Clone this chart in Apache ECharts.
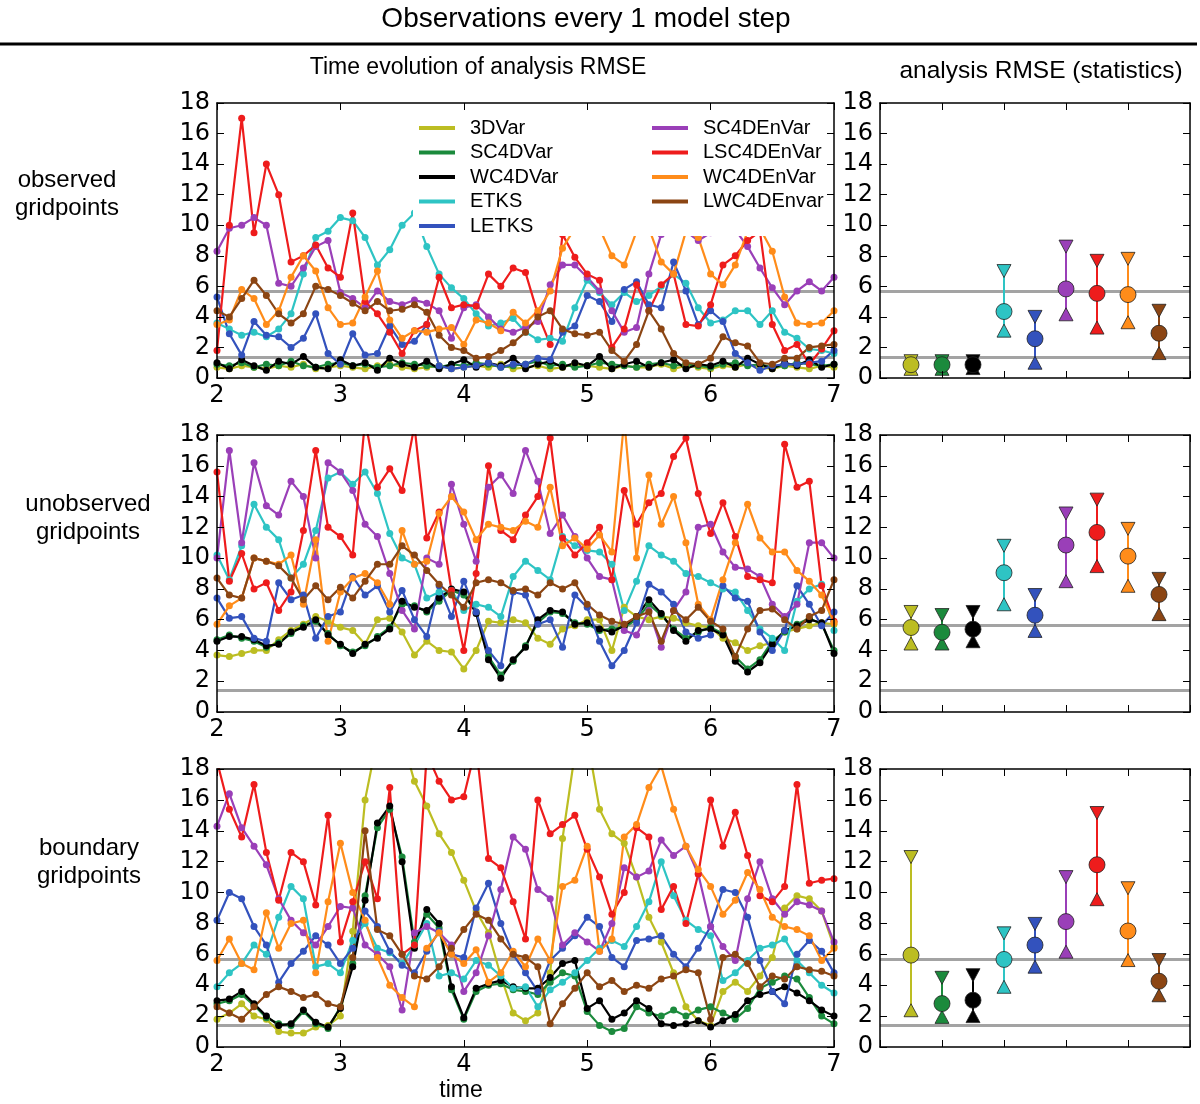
<!DOCTYPE html>
<html>
<head>
<meta charset="utf-8">
<title>Observations every 1 model step</title>
<script src="https://cdn.jsdelivr.net/npm/echarts@6/dist/echarts.min.js"></script>
<style>
html, body { margin: 0; padding: 0; background: #fff; }
#chart { width: 1200px; height: 1104px; }
</style>
</head>
<body>
<div id="chart"></div>
<script>
var methods = ['3DVar', 'SC4DVar', 'WC4DVar', 'ETKS', 'LETKS', 'SC4DEnVar', 'LSC4DEnVar', 'WC4DEnVar', 'LWC4DEnvar'];
var colors = ['#bcbd22', '#1b8a3c', '#000000', '#2ec4c4', '#3352bd', '#9a3fb8', '#ee1c1c', '#ff8c1a', '#8b4513'];

var times = [2.0, 2.1, 2.2, 2.3, 2.4, 2.5, 2.6, 2.7, 2.8, 2.9,
  3.0, 3.1, 3.2, 3.3, 3.4, 3.5, 3.6, 3.7, 3.8, 3.9,
  4.0, 4.1, 4.2, 4.3, 4.4, 4.5, 4.6, 4.7, 4.8, 4.9,
  5.0, 5.1, 5.2, 5.3, 5.4, 5.5, 5.6, 5.7, 5.8, 5.9,
  6.0, 6.1, 6.2, 6.3, 6.4, 6.5, 6.6, 6.7, 6.8, 6.9, 7.0];

// observed gridpoints
var obs3DVar = [0.7,0.6,0.8,0.7,0.6,0.8,0.7,0.9,0.6,0.7, 0.8,0.7,0.6,0.8,0.9,0.7,0.6,0.7,0.8,0.6, 0.7,0.8,0.7,0.9,0.6,0.7,0.8,0.6,0.7,0.9, 0.8,0.7,0.6,0.8,0.7,0.7,0.9,0.6,0.8,0.7, 0.6,0.8,0.7,0.9,0.7,0.6,0.8,0.7,0.6,0.8, 0.7];
var obsSC4DVar = [0.9,0.8,1.0,0.7,0.9,0.8,1.1,0.8,0.7,0.9, 1.0,0.8,0.9,0.7,0.8,1.0,0.9,0.8,0.7,0.9, 0.8,1.0,0.9,0.7,0.8,0.9,1.1,0.8,0.9,0.7, 0.8,1.0,0.9,0.8,0.7,0.9,1.0,0.8,0.9,0.8, 0.7,0.9,1.0,0.8,0.9,0.7,0.8,1.0,0.9,0.8, 0.9];
var obsWC4DVar = [1.0,0.6,1.2,0.8,0.5,1.1,0.9,1.4,0.7,0.6, 1.2,0.8,1.0,0.5,1.3,0.9,0.7,1.1,0.6,0.9, 1.2,0.7,1.0,0.8,1.3,0.6,0.9,1.1,0.7,1.0, 0.8,1.4,0.6,0.9,1.1,0.7,1.0,1.2,0.6,0.9, 0.8,1.1,0.7,1.3,0.9,0.6,1.0,0.8,1.2,0.7, 0.9];
var obsETKS = [3.6,3.2,2.8,3.0,2.7,3.2,4.2,6.8,9.2,9.6, 10.5,10.3,9.2,7.4,8.4,10.0,10.8,8.6,6.8,5.9, 5.2,4.2,3.4,3.6,3.9,3.0,2.5,2.6,2.4,4.6, 6.4,5.6,4.8,5.6,5.0,5.4,6.0,6.8,6.2,4.6, 3.6,3.8,4.4,4.4,3.5,4.4,3.0,2.6,1.9,1.8, 1.6];
var obsLETKS = [5.3,2.9,1.5,3.7,2.8,2.7,2.0,2.6,4.2,1.6, 0.9,2.9,1.5,1.6,3.4,2.2,2.4,3.5,0.8,0.6, 0.7,0.8,1.0,0.7,0.9,0.9,1.3,1.2,3.0,3.4, 5.4,5.0,3.7,5.8,6.3,4.8,4.6,7.6,5.7,3.5, 4.4,3.7,1.6,1.0,0.5,0.8,0.9,0.9,1.0,1.1, 1.8];
var obsSC4DEnVar = [8.3,9.8,10.0,10.5,10.0,6.2,6.0,7.2,8.6,9.0, 5.6,5.2,4.6,5.7,5.0,4.8,5.1,4.9,4.4,2.6, 4.6,4.8,4.0,3.2,3.0,3.3,3.7,6.1,7.4,7.4, 6.6,5.7,4.4,3.0,3.3,6.8,9.4,9.8,9.6,9.0, 9.5,9.8,9.7,8.6,7.2,5.9,4.8,5.7,6.3,5.7, 6.6];
var obsLSC4DEnVar = [1.8,10.0,17.0,9.5,14.0,12.0,7.6,8.0,8.7,7.2, 6.6,10.8,5.0,4.2,3.0,1.6,3.1,3.5,6.6,4.6, 4.8,4.7,6.8,6.0,7.2,6.9,4.2,2.2,9.4,7.9, 6.8,6.4,2.0,3.2,6.1,4.4,6.1,6.8,3.5,3.4, 4.8,7.4,8.0,9.0,9.6,3.5,1.8,2.2,0.9,1.9, 3.1];
var obsWC4DEnVar = [3.5,3.8,5.8,5.2,3.5,4.4,6.6,8.0,7.0,4.6, 3.5,3.6,5.3,7.0,3.8,2.6,3.1,3.0,3.2,3.3, 2.2,3.8,3.6,3.1,4.3,3.6,4.4,5.7,8.5,9.8, 10.2,9.8,8.0,7.4,9.6,9.8,7.6,6.8,9.6,9.2, 6.8,6.1,7.4,9.6,9.8,8.3,5.3,3.6,3.5,3.6, 4.4];
var obsLWC4DEnvar = [4.4,4.0,5.2,6.4,5.4,4.2,3.6,4.2,6.0,5.8, 5.4,4.9,4.4,5.0,4.4,4.5,4.8,4.3,2.8,2.0, 1.8,1.3,1.4,1.8,2.3,3.0,4.0,4.4,3.2,2.9, 2.8,3.0,1.8,1.1,2.2,4.4,3.2,1.6,1.0,0.9, 1.3,2.7,2.3,2.1,1.0,0.9,1.3,1.3,2.0,2.1, 2.2];

// unobserved gridpoints
var unobs3DVar = [3.7,3.6,3.8,4.0,4.0,4.7,5.3,5.7,6.2,5.9, 5.5,5.3,4.4,6.0,6.1,5.2,3.7,4.6,4.0,3.9, 2.8,4.0,5.9,5.8,6.0,5.8,4.8,4.4,5.4,5.6, 6.0,6.0,4.0,6.8,6.2,6.0,6.2,6.1,5.8,5.6, 5.5,4.8,4.5,4.0,4.3,4.5,5.2,5.4,5.6,5.8, 5.7];
var unobsSC4DVar = [4.7,5.0,4.8,4.6,4.2,4.5,5.1,5.6,5.9,5.1, 4.3,3.9,4.3,4.9,5.5,7.0,6.9,6.5,7.2,7.9, 7.6,6.5,3.6,2.4,3.3,4.3,5.8,6.5,6.4,5.8, 5.7,5.3,5.4,5.5,6.0,7.0,6.3,5.4,4.8,5.2, 5.5,5.1,3.6,2.8,3.4,4.6,5.2,5.7,6.1,5.7, 4.0];
var unobsWC4DVar = [4.6,4.9,4.9,4.7,4.3,4.4,5.2,5.5,6.0,5.0, 4.4,3.8,4.4,4.8,5.4,7.2,6.8,6.6,7.4,8.0, 7.8,6.4,3.4,2.2,3.4,4.2,6.0,6.6,6.5,5.7, 5.8,5.4,5.2,5.6,6.2,7.3,6.4,5.3,4.6,5.3, 5.4,5.0,3.3,2.6,3.2,4.4,5.3,5.6,6.0,5.8, 3.8];
var unobsETKS = [10.2,8.6,10.8,13.5,12.0,11.2,8.7,9.6,11.8,15.2, 15.6,14.8,15.6,14.2,11.6,10.0,9.6,7.4,7.8,7.9, 6.6,7.0,6.8,6.2,8.8,9.8,9.2,8.6,11.4,10.8, 10.5,10.4,9.6,6.6,8.5,10.8,10.2,9.8,9.0,8.8, 8.4,8.0,7.8,6.6,5.4,4.8,4.0,7.2,8.0,8.3, 5.3];
var unobsLETKS = [7.4,6.1,6.2,4.8,4.6,8.4,7.3,7.6,4.8,6.2, 6.5,8.8,7.6,8.2,6.5,7.9,6.0,4.9,8.2,6.2, 8.5,6.5,4.0,3.0,7.8,7.6,5.7,6.0,4.2,7.6, 6.8,4.6,3.0,4.0,5.8,8.3,7.8,7.0,5.2,4.8, 5.0,8.2,7.4,7.2,5.2,4.0,5.3,8.2,7.0,5.6, 6.5];
var unobsSC4DEnVar = [10.0,17.0,11.0,16.2,13.4,12.8,15.0,14.0,10.0,16.2, 15.6,14.4,12.2,11.4,9.0,6.6,5.4,10.0,9.6,14.8, 12.2,9.8,14.6,15.4,14.2,17.0,15.0,11.6,12.8,11.4, 10.0,8.8,8.6,5.3,5.0,6.6,4.2,6.6,7.8,12.0, 12.2,10.4,9.4,9.3,8.8,7.0,6.2,7.0,11.0,11.0, 10.0];
var unobsLSC4DEnVar = [15.6,8.5,10.3,8.0,8.4,6.6,7.8,11.8,17.0,12.0, 11.4,10.2,19.0,14.6,15.8,14.4,18.6,11.3,13.0,7.9, 4.0,9.0,16.0,11.8,11.2,12.8,14.0,17.8,11.3,10.2, 11.0,12.0,8.6,14.4,12.2,13.6,14.2,16.6,17.8,14.2, 11.6,13.6,11.4,8.8,8.6,8.4,17.4,14.6,15.0,8.2, 5.9];
var unobsWC4DEnVar = [5.7,6.9,7.4,10.0,9.8,9.6,10.2,7.0,11.2,4.6, 7.8,8.7,9.0,8.4,7.0,11.8,9.6,9.8,12.9,14.0, 13.0,11.2,12.2,12.0,11.8,12.4,12.0,14.6,10.8,11.3, 10.6,11.5,10.4,19.0,10.0,15.4,12.2,14.0,11.0,7.0, 6.0,8.6,11.0,13.5,11.3,10.4,10.4,9.2,8.5,7.6, 5.8];
var unobsLWC4DEnvar = [8.7,7.6,7.4,10.0,9.8,9.5,8.7,7.3,8.2,7.3, 8.1,7.4,8.5,9.6,9.6,10.8,10.2,9.2,8.3,7.6, 6.8,8.4,8.6,8.4,7.9,8.0,7.6,8.4,8.0,8.4, 7.0,6.3,5.9,5.7,6.2,6.5,4.6,6.6,6.0,6.8, 5.9,5.4,3.6,5.4,6.6,6.7,6.0,5.4,6.2,6.6, 8.6];

// boundary gridpoints
var bnd3DVar = [1.8,2.2,2.8,2.0,1.8,1.0,0.9,0.9,1.3,1.4, 2.0,7.5,16.0,20.0,21.0,20.0,17.2,15.6,13.8,12.6, 10.8,8.8,7.4,4.6,2.2,1.7,2.2,4.8,13.5,19.0, 20.0,15.4,13.8,13.2,11.0,8.4,6.8,4.8,2.6,1.7, 1.4,3.6,4.2,3.6,4.6,5.8,9.0,9.8,9.6,8.8, 6.5];
var bndSC4DVar = [2.8,3.0,3.4,2.7,1.9,1.5,1.4,2.3,1.5,1.2, 2.6,5.4,9.8,14.2,15.4,12.3,6.8,8.6,7.7,3.7, 1.8,3.6,4.0,4.1,3.7,3.6,3.4,4.2,4.8,4.6, 2.3,1.4,1.0,1.2,2.6,2.2,2.0,2.4,2.0,2.4, 2.6,2.2,1.8,2.5,3.8,4.2,4.6,4.4,3.2,2.0, 1.5];
var bndWC4DVar = [3.0,3.1,3.6,2.8,2.0,1.4,1.5,2.4,1.6,1.3, 2.5,5.2,9.5,14.5,15.6,12.0,6.4,8.9,8.0,3.9, 1.9,3.8,4.1,4.3,3.9,3.8,3.8,4.5,5.4,5.6, 2.5,3.0,1.8,2.2,3.0,2.5,1.5,1.4,1.5,1.7, 1.3,1.7,2.1,3.0,3.4,3.6,3.9,3.5,3.0,2.4, 2.0];
var bndETKS = [3.9,4.8,5.4,6.6,6.0,8.4,10.4,9.6,5.2,5.4, 4.8,6.9,8.0,6.4,6.1,5.4,6.6,8.0,4.6,4.8, 4.4,5.6,5.3,4.6,3.8,3.9,2.6,3.7,4.2,4.8, 5.6,6.4,6.9,6.5,7.8,9.4,12.0,9.8,8.2,7.6, 7.2,4.3,4.8,5.6,6.4,6.6,7.0,5.6,4.8,4.0, 3.5];
var bndLETKS = [8.2,10.0,9.6,7.8,6.6,4.2,5.4,6.2,7.2,6.6, 5.4,6.4,8.8,7.8,6.2,5.3,4.8,6.2,7.5,6.0, 5.8,9.0,10.6,8.0,6.0,4.8,3.6,5.6,6.4,7.2, 8.4,7.8,5.8,5.2,6.9,7.0,7.2,6.0,5.2,6.4, 7.8,10.2,10.0,8.4,5.6,3.6,2.8,6.0,6.9,6.2, 4.8];
var bndSC4DEnVar = [14.3,16.4,14.2,13.0,11.8,9.6,8.2,7.4,6.6,7.8, 9.1,9.0,6.6,6.0,5.2,2.4,7.4,7.8,7.4,6.6, 3.6,4.8,7.2,10.2,13.6,12.8,10.2,9.6,6.6,7.4, 6.8,6.2,8.0,11.6,11.0,11.4,13.4,12.4,13.0,11.2, 7.8,6.5,5.6,9.6,12.0,9.6,8.6,9.4,9.2,8.8, 6.8];
var bndLSC4DEnVar = [18.5,15.4,13.6,17.0,12.6,9.5,12.6,12.0,9.2,15.0, 6.8,9.4,12.0,9.6,16.8,6.0,6.6,19.0,17.2,16.0, 16.2,19.5,12.2,11.6,9.4,7.0,16.0,13.8,14.4,15.0, 12.8,11.0,8.6,10.0,14.2,13.6,8.9,10.4,8.0,11.2, 16.0,13.0,15.2,12.4,9.8,9.4,10.4,17.0,10.6,10.8, 10.9];
var bndWC4DEnVar = [5.6,7.0,5.4,5.0,8.7,6.4,8.0,8.2,4.8,9.4, 13.2,10.0,8.2,5.8,4.0,3.2,2.6,6.4,7.4,6.0, 5.4,6.3,4.2,4.8,6.2,5.2,7.0,5.6,10.4,10.8, 13.0,6.2,7.0,13.6,14.4,16.8,18.2,15.4,13.0,11.5, 10.4,8.6,9.5,11.3,10.2,8.4,7.8,7.6,7.2,5.6, 6.4];
var bndLWC4DEnvar = [2.6,2.2,1.8,2.6,3.4,3.9,3.6,3.2,3.4,2.8, 2.6,5.8,14.0,7.6,7.2,6.0,4.6,4.4,5.2,6.4, 7.6,8.6,8.2,7.0,6.0,5.8,5.2,1.5,2.8,3.8, 4.8,3.9,4.3,3.6,4.0,3.8,4.4,4.6,5.0,4.8, 1.8,5.8,6.0,5.4,3.9,4.6,4.4,5.2,5.0,4.9, 4.6];

// statistics panels: mean, upper and lower marker per method
var observedMean = [0.87, 0.87, 0.87, 4.35, 2.57, 5.83, 5.54, 5.46, 2.93];
var observedHigh = [1.1, 1.1, 1.1, 7.0, 4.0, 8.6, 7.67, 7.8, 4.4];
var observedLow = [0.6, 0.6, 0.65, 3.1, 1.0, 4.17, 3.3, 3.65, 1.63];
var unobservedMean = [5.49, 5.18, 5.38, 9.05, 6.29, 10.85, 11.67, 10.13, 7.64];
var unobservedHigh = [6.5, 6.3, 6.5, 10.8, 7.6, 12.9, 13.8, 11.9, 8.65];
var unobservedLow = [4.45, 4.45, 4.6, 7.0, 5.27, 8.5, 9.48, 8.2, 6.36];
var boundaryMean = [5.95, 2.81, 3.03, 5.67, 6.6, 8.12, 11.8, 7.51, 4.26];
var boundaryHigh = [12.3, 4.48, 4.65, 7.36, 7.97, 11.0, 15.15, 10.28, 5.63];
var boundaryLow = [2.38, 1.95, 2.0, 3.9, 5.2, 6.17, 9.57, 5.63, 3.35];

// grey reference levels
var observedRef = [5.65, 1.35];
var unobservedRef = [5.65, 1.4];
var boundaryRef = [5.7, 1.4];

var FONT = 'DejaVu Sans';
var SANS = '"Liberation Sans", Arial, sans-serif';
var panelTops = [103, 435, 769];
var panelHeights = [275, 277, 278];

var rows = [
  {label: 'observed\ngridpoints', labelX: 67,
   lines: [obs3DVar, obsSC4DVar, obsWC4DVar, obsETKS, obsLETKS, obsSC4DEnVar, obsLSC4DEnVar, obsWC4DEnVar, obsLWC4DEnvar],
   mean: observedMean, high: observedHigh, low: observedLow, ref: observedRef},
  {label: 'unobserved\ngridpoints', labelX: 88,
   lines: [unobs3DVar, unobsSC4DVar, unobsWC4DVar, unobsETKS, unobsLETKS, unobsSC4DEnVar, unobsLSC4DEnVar, unobsWC4DEnVar, unobsLWC4DEnvar],
   mean: unobservedMean, high: unobservedHigh, low: unobservedLow, ref: unobservedRef},
  {label: 'boundary\ngridpoints', labelX: 89,
   lines: [bnd3DVar, bndSC4DVar, bndWC4DVar, bndETKS, bndLETKS, bndSC4DEnVar, bndLSC4DEnVar, bndWC4DEnVar, bndLWC4DEnvar],
   mean: boundaryMean, high: boundaryHigh, low: boundaryLow, ref: boundaryRef}
];

var grids = [], xAxes = [], yAxes = [], series = [];

function frameAxes(gi, xmin, xmax, xint, showX) {
  var base = {
    gridIndex: gi, type: 'value', z: 5,
    axisLine: {show: true, onZero: false, lineStyle: {color: '#000', width: 1.5}},
    axisTick: {show: true, inside: true, length: 7, lineStyle: {color: '#000', width: 1}},
    splitLine: {show: false}
  };
  var labelStyle = {color: '#000', fontSize: 24, fontFamily: FONT, showMinLabel: true, showMaxLabel: true};
  xAxes.push(Object.assign({}, base, {position: 'bottom', min: xmin, max: xmax, interval: xint,
    axisLabel: Object.assign({show: showX, margin: 6}, labelStyle)}));
  xAxes.push(Object.assign({}, base, {position: 'top', min: xmin, max: xmax, interval: xint, axisLabel: {show: false}}));
  yAxes.push(Object.assign({}, base, {position: 'left', min: 0, max: 18, interval: 2,
    axisLabel: Object.assign({show: true, margin: 7}, labelStyle)}));
  yAxes.push(Object.assign({}, base, {position: 'right', min: 0, max: 18, interval: 2, axisLabel: {show: false}}));
}

function refLine(levels) {
  return {
    silent: true, symbol: 'none', z: 1, animation: false,
    label: {show: false},
    lineStyle: {color: '#a3a3a3', width: 3, type: 'solid'},
    data: levels.map(function (v) { return {yAxis: v}; })
  };
}

rows.forEach(function (row, r) {
  var gl = r * 2, gr = r * 2 + 1;
  grids.push({left: 217, top: panelTops[r], width: 617, height: panelHeights[r]});
  grids.push({left: 880, top: panelTops[r], width: 310, height: panelHeights[r]});
  frameAxes(gl, 2, 7, 1, true);
  frameAxes(gr, 0, 10, 2, false);

  // time evolution
  row.lines.forEach(function (vals, m) {
    var s = {
      type: 'line', name: methods[m],
      xAxisIndex: 2 * gl, yAxisIndex: 2 * gl,
      data: times.map(function (t, i) { return [t, vals[i]]; }),
      symbol: 'circle', symbolSize: 7, showAllSymbol: true,
      lineStyle: {color: colors[m], width: 2.2},
      itemStyle: {color: colors[m]},
      clip: true, z: 2, silent: true
    };
    if (m === 0) s.markLine = refLine(row.ref);
    series.push(s);
  });

  // statistics: vertical bars
  series.push({
    type: 'custom', name: 'range',
    xAxisIndex: 2 * gr, yAxisIndex: 2 * gr, z: 2, silent: true,
    data: methods.map(function (m, i) { return [i + 1, row.low[i], row.high[i]]; }),
    encode: {x: 0, y: [1, 2]},
    renderItem: function (params, api) {
      var x = api.value(0);
      var p1 = api.coord([x, api.value(1)]);
      var p2 = api.coord([x, api.value(2)]);
      return {
        type: 'line',
        shape: {x1: p1[0], y1: p1[1], x2: p2[0], y2: p2[1]},
        style: {stroke: colors[params.dataIndex], lineWidth: 2}
      };
    },
    markLine: refLine(row.ref)
  });
  var marks = [
    {vals: row.high, symbol: 'triangle', rotate: 180, size: [14, 13]},
    {vals: row.low, symbol: 'triangle', rotate: 0, size: [14, 13]},
    {vals: row.mean, symbol: 'circle', rotate: 0, size: 16}
  ];
  marks.forEach(function (mk) {
    series.push({
      type: 'scatter', name: 'stats',
      xAxisIndex: 2 * gr, yAxisIndex: 2 * gr, z: 3, silent: true,
      symbol: mk.symbol, symbolRotate: mk.rotate, symbolSize: mk.size,
      itemStyle: {borderColor: '#222', borderWidth: 0.8, opacity: 1},
      data: methods.map(function (m, i) {
        return {value: [i + 1, mk.vals[i]], itemStyle: {color: colors[i]}};
      })
    });
  });
});

var legendBase = {
  orient: 'vertical', icon: 'rect', itemWidth: 36, itemHeight: 4, itemGap: 4.5,
  padding: 0, selectedMode: false, z: 6,
  textStyle: {fontSize: 20, fontFamily: SANS, color: '#000', lineHeight: 20, padding: [0, 0, 0, 10]}
};

function label(x, y, text, size) {
  return {type: 'text', x: x, y: y, z: 10,
    style: {text: text, font: size + 'px ' + SANS, lineHeight: 28, fill: '#000',
      textAlign: 'center', textVerticalAlign: 'middle'}};
}

var textEls = [
  label(586, 19, 'Observations every 1 model step', 28),
  label(478, 68, 'Time evolution of analysis RMSE', 23),
  label(1041, 71, 'analysis RMSE (statistics)', 24.5),
  label(461, 1091, 'time', 23)
];
var labelY = [194, 518, 862];
rows.forEach(function (row, r) {
  textEls.push(label(row.labelX, labelY[r], row.label, 24));
});

var chart = echarts.init(document.getElementById('chart'));
chart.setOption({
  animation: false,
  backgroundColor: '#fff',
  legend: [
    Object.assign({}, legendBase, {data: methods.slice(0, 5), left: 419, top: 118}),
    Object.assign({}, legendBase, {data: methods.slice(5), left: 652, top: 118})
  ],
  grid: grids,
  xAxis: xAxes,
  yAxis: yAxes,
  graphic: {
    elements: [
      {type: 'line', shape: {x1: 0, y1: 44, x2: 1197, y2: 44}, style: {stroke: '#000', lineWidth: 3}},
      // opaque legend background
      {type: 'rect', z: 3, shape: {x: 413, y: 104, width: 420, height: 132}, style: {fill: '#fff'}}
    ].concat(textEls)
  },
  series: series
});
</script>
</body>
</html>
